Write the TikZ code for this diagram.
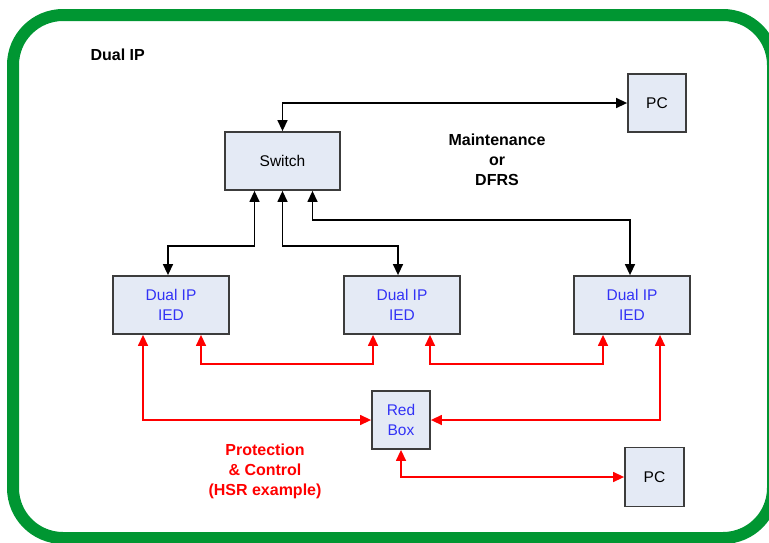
\documentclass[tikz,border=0pt]{standalone}
\usepackage{fontspec}
\setmainfont{Liberation Sans}
\usetikzlibrary{arrows.meta,calc}

\definecolor{frameGreen}{RGB}{0,150,50}
\definecolor{boxFill}{RGB}{228,234,245}
\definecolor{boxLine}{RGB}{60,60,60}
\definecolor{labelBlue}{RGB}{50,50,245}
\definecolor{ringRed}{RGB}{255,0,0}

\tikzset{
  devbox/.style={draw=boxLine, line width=1.8pt, fill=boxFill, inner sep=0pt,
    align=center, font=\fontsize{15.5}{19.5}\selectfont},
  ied/.style={devbox, minimum width=116pt, minimum height=58pt, text=labelBlue},
  lan/.style={draw=black, line width=1.4pt, {Triangle[length=11pt,width=10pt]}-{Triangle[length=11pt,width=10pt]}},
  ring/.style={draw=ringRed, line width=1.4pt, {Triangle[length=11pt,width=10pt]}-{Triangle[length=11pt,width=10pt]}},
  caption/.style={font=\bfseries\fontsize{16}{20}\selectfont, align=center}
}

\begin{document}
\begin{tikzpicture}[x=1pt,y=-1pt]
\useasboundingbox (0,0) rectangle (769,542);

% rounded green frame, partly running off the page
\begin{scope}
  \clip (0,0) rectangle (769,542);
  \draw[frameGreen, line width=12pt, rounded corners=50pt] (13,15) rectangle (773,538);
\end{scope}

% devices
\node[devbox, minimum width=58pt, minimum height=58pt] (pcTop) at (657,103) {PC};
\node[devbox, minimum width=115pt, minimum height=58pt] (sw) at (282.5,161) {Switch};
\node[ied] (ied1) at (171,305) {Dual IP\\IED};
\node[ied] (ied2) at (402,305) {Dual IP\\IED};
\node[ied] (ied3) at (632,305) {Dual IP\\IED};
\node[devbox, minimum width=58pt, minimum height=58pt, text=labelBlue] (rb) at (401,420) {Red\\Box};
\node[devbox, minimum width=59pt, minimum height=59pt] (pcBot) at (654.5,477) {PC};

% texts
\node[caption, anchor=west] (title) at (87,55) {Dual IP};
\node[caption] (maint) at (497,160) {Maintenance\\or\\DFRS};
\node[caption, text=ringRed] (prot) at (265,471) {Protection\\\&~Control\\(HSR example)};

% station LAN (black)
\draw[lan] (sw.north) |- (pcTop.west);
\draw[lan] ([xshift=-28pt]sw.south) -- ++(0,55) -| ([xshift=-3pt]ied1.north);
\draw[lan] (sw.south) -- ++(0,55) -| ([xshift=-4pt]ied2.north);
\draw[lan] ([xshift=30pt]sw.south) -- ++(0,29) -| ([xshift=-2pt]ied3.north);

% HSR ring (red)
\draw[ring] ([xshift=30pt]ied1.south) -- ++(0,29) -| ([xshift=-29pt]ied2.south);
\draw[ring] ([xshift=28pt]ied2.south) -- ++(0,29) -| ([xshift=-29pt]ied3.south);
\draw[ring] ([xshift=-28pt]ied1.south) |- (rb.west);
\draw[ring] ([xshift=28pt]ied3.south) |- (rb.east);
\draw[ring] (rb.south) |- (pcBot.west);
\end{tikzpicture}
\end{document}
